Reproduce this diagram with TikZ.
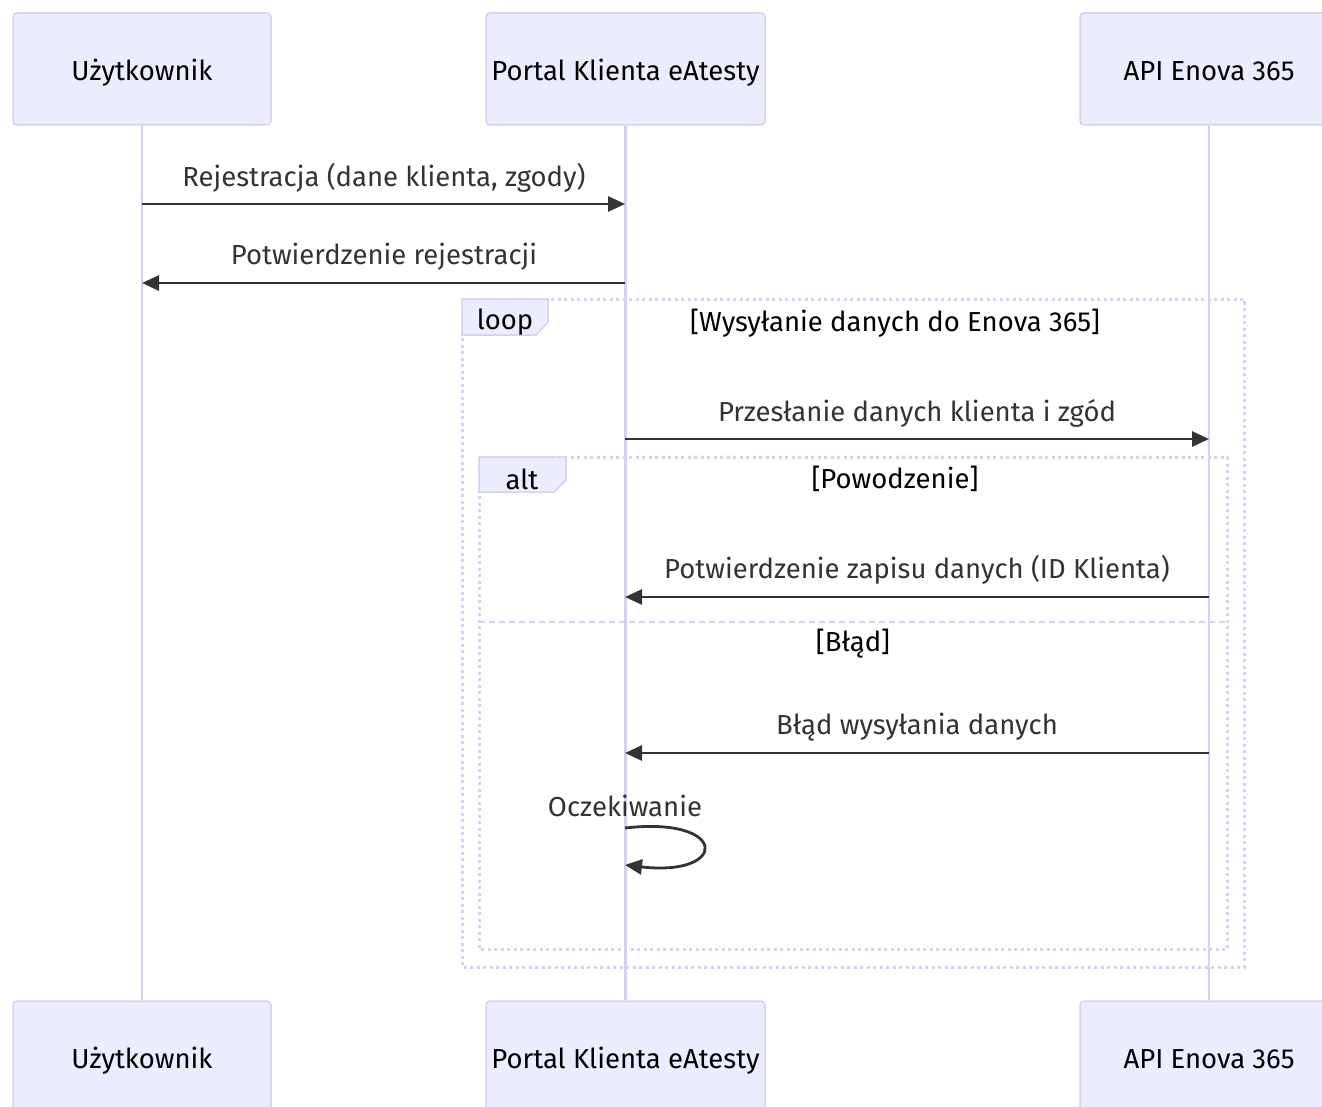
\documentclass[tikz,border=0pt]{standalone}
\usepackage{fontspec}
\setmainfont{Fira Sans}
\usetikzlibrary{arrows.meta}
\definecolor{actfill}{HTML}{ECECFF}
\definecolor{actline}{HTML}{D8CFF3}
\definecolor{msgc}{HTML}{333333}
\newcommand{\dfont}{\fontsize{27.5}{32}\selectfont}
\begin{document}
\begin{tikzpicture}[x=1pt,y=-1pt,
  actor/.style={draw=actline, fill=actfill, line width=1.5, rounded corners=4,
    minimum width=258, minimum height=112, inner sep=0, text=black, font=\dfont,
    text height=23pt, text depth=0pt},
  lifeline/.style={draw=actline, line width=2.5},
  msg/.style={draw=msgc, line width=2.8, -{Triangle[length=17pt,width=15pt]}},
  lbl/.style={text=msgc, font=\dfont, inner sep=0, anchor=center},
  ftext/.style={text=black, font=\dfont, inner sep=0, anchor=center},
  frame/.style={draw=actline, line width=3, dash pattern=on 3pt off 3.5pt},
  sepline/.style={draw=actline, line width=2.8, dash pattern=on 6pt off 4pt},
  tab/.style={draw=actline, fill=actfill, line width=1.5}]
\useasboundingbox (0,0) rectangle (1322,1107);
\clip (0,0) rectangle (1322,1107);
\fill[white] (0,0) rectangle (1322,1107);
% actors
\node[actor] (u1) at (142,69) {Użytkownik};
\node[actor, minimum width=279] (p1) at (625.5,69) {Portal Klienta eAtesty};
\node[actor] (a1) at (1209,69) {API Enova 365};
\node[actor] (u2) at (142,1057) {Użytkownik};
\node[actor, minimum width=279] (p2) at (625.5,1057) {Portal Klienta eAtesty};
\node[actor] (a2) at (1209,1057) {API Enova 365};
% lifelines
\draw[lifeline] (u1.south) -- (u2.north);
\draw[lifeline] (p1.south) -- (p2.north);
\draw[lifeline] (a1.south) -- (a2.north);
% loop frame
\draw[frame] (462,299) rectangle (1244,967);
\draw[tab] (462,299) -- (548,299) -- (548,322) -- (536,335) -- (462,335) -- cycle;
\node[ftext] (looplbl) at (505,322) {loop};
\node[ftext] (looptitle) at (895,323) {[Wysyłanie danych do Enova 365]};
% alt frame
\draw[frame] (479,457) rectangle (1227,949);
\draw[tab] (479,457) -- (566,457) -- (566,480) -- (554,492) -- (479,492) -- cycle;
\node[ftext] (altlbl) at (522,479) {alt};
\node[ftext] (alttitle) at (895,479) {[Powodzenie]};
\draw[sepline] (479,622) -- (1227,622);
\node[ftext] (elsetitle) at (853,644) {[Błąd]};
% message coordinates
\coordinate (m1a) at (142,204); \coordinate (m1b) at (625,204);
\coordinate (m2a) at (625,283); \coordinate (m2b) at (142,283);
\coordinate (m3a) at (625,439); \coordinate (m3b) at (1209,439);
\coordinate (m4a) at (1209,597); \coordinate (m4b) at (625,597);
\coordinate (m5a) at (1209,753); \coordinate (m5b) at (625,753);
\coordinate (s1) at (625,828); \coordinate (s2) at (625,865);
% messages
\draw[msg] (m1a) -- (m1b);
\node[lbl] (t1) at (384,178) {Rejestracja (dane klienta, zgody)};
\draw[msg] (m2a) -- (m2b);
\node[lbl] (t2) at (384,257) {Potwierdzenie rejestracji};
\draw[msg] (m3a) -- (m3b);
\node[lbl] (t3) at (917,413) {Przesłanie danych klienta i zgód};
\draw[msg] (m4a) -- (m4b);
\node[lbl] (t4) at (917,570) {Potwierdzenie zapisu danych (ID Klienta)};
\draw[msg] (m5a) -- (m5b);
\node[lbl] (t5) at (917,727) {Błąd wysyłania danych};
\draw[msg] (s1) .. controls (729,816) and (729,877) .. (s2);
\node[lbl] (t6) at (625,806) {Oczekiwanie};
\end{tikzpicture}
\end{document}
